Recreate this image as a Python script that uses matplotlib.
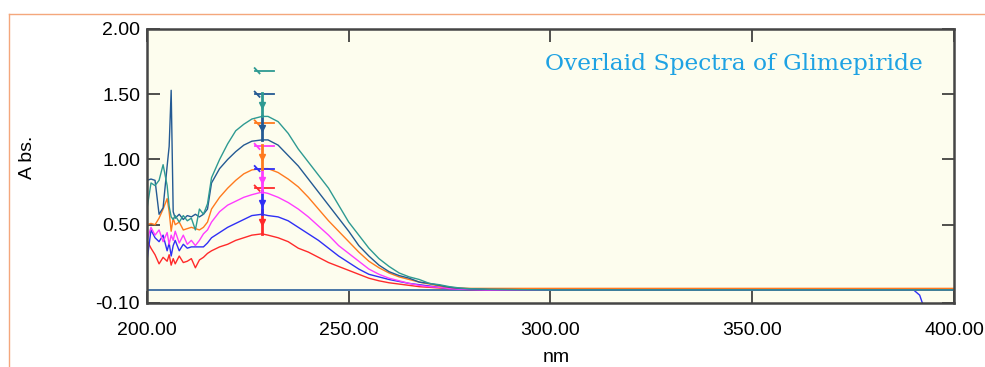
import numpy as np
import matplotlib
matplotlib.use("Agg")
import matplotlib.pyplot as plt
from matplotlib.lines import Line2D

# %% spectra read off the overlay (wavelength in nm, absorbance)
wl = [200, 201, 202, 203, 204, 205, 205.5, 206, 206.5, 207, 208, 209, 210, 211, 212, 213, 214, 215, 216,
      218, 220, 222, 224, 226, 228.5, 230, 232.5, 235, 237.5, 240, 242.5, 245, 247.5, 250, 252.5,
      255, 257.5, 260, 262.5, 265, 267.5, 270, 272.5, 275, 277.5, 280, 285, 300, 390, 391.5, 392.5, 400]

abs_red = [0.38, 0.32, 0.27, 0.20, 0.25, 0.22, 0.27, 0.19, 0.24, 0.20, 0.26, 0.21, 0.22, 0.24, 0.17, 0.23, 0.25, 0.28, 0.30,
           0.33, 0.35, 0.38, 0.40, 0.42, 0.43, 0.42, 0.40, 0.37, 0.32, 0.29, 0.25, 0.21, 0.18, 0.15, 0.12,
           0.09, 0.07, 0.055, 0.045, 0.035, 0.025, 0.02, 0.015, 0.01, 0.005, 0.003, 0.0, 0.0, 0.0, 0.0, 0.0, 0.0]
abs_blue = [0.22, 0.46, 0.40, 0.37, 0.42, 0.30, 0.36, 0.26, 0.34, 0.38, 0.30, 0.35, 0.32, 0.33, 0.33, 0.33, 0.33, 0.36, 0.40,
            0.44, 0.48, 0.51, 0.54, 0.57, 0.58, 0.57, 0.56, 0.53, 0.48, 0.43, 0.38, 0.32, 0.26, 0.21, 0.16,
            0.12, 0.10, 0.08, 0.065, 0.05, 0.04, 0.03, 0.02, 0.01, 0.005, 0.003, 0.0, 0.0, 0.0, -0.04, -0.13, np.nan]
abs_magenta = [0.38, 0.48, 0.42, 0.46, 0.37, 0.44, 0.35, 0.42, 0.38, 0.45, 0.36, 0.42, 0.35, 0.38, 0.34, 0.38, 0.43, 0.46, 0.52,
               0.60, 0.65, 0.68, 0.71, 0.73, 0.75, 0.74, 0.71, 0.67, 0.62, 0.56, 0.49, 0.42, 0.34, 0.28, 0.22,
               0.16, 0.12, 0.09, 0.07, 0.05, 0.035, 0.025, 0.02, 0.01, 0.006, 0.004, 0.0, 0.0, 0.0, 0.0, 0.0, 0.0]
abs_orange = [0.50, 0.51, 0.50, 0.55, 0.62, 0.70, 0.60, 0.45, 0.55, 0.50, 0.52, 0.46, 0.47, 0.48, 0.47, 0.46, 0.48, 0.52, 0.62,
              0.71, 0.78, 0.84, 0.89, 0.92, 0.93, 0.93, 0.90, 0.85, 0.79, 0.71, 0.62, 0.53, 0.45, 0.37, 0.29,
              0.22, 0.17, 0.13, 0.10, 0.08, 0.06, 0.045, 0.03, 0.02, 0.015, 0.012, 0.012, 0.012, 0.012, 0.012, 0.012, 0.012]
abs_navy = [0.84, 0.85, 0.84, 0.58, 0.63, 0.95, 1.10, 1.53, 0.60, 0.55, 0.58, 0.54, 0.57, 0.56, 0.58, 0.56, 0.58, 0.62, 0.82,
            0.93, 1.00, 1.06, 1.11, 1.14, 1.15, 1.15, 1.11, 1.03, 0.95, 0.85, 0.75, 0.65, 0.55, 0.45, 0.34,
            0.26, 0.19, 0.14, 0.11, 0.09, 0.06, 0.05, 0.035, 0.02, 0.012, 0.008, 0.004, 0.0, 0.0, 0.0, 0.0, 0.0]
abs_teal = [0.62, 0.82, 0.80, 0.84, 0.96, 0.80, 0.64, 0.56, 0.54, 0.57, 0.52, 0.57, 0.53, 0.55, 0.46, 0.62, 0.58, 0.66, 0.86,
            1.00, 1.12, 1.22, 1.27, 1.31, 1.33, 1.33, 1.29, 1.20, 1.08, 0.98, 0.88, 0.78, 0.65, 0.52, 0.42,
            0.32, 0.24, 0.18, 0.13, 0.10, 0.08, 0.05, 0.04, 0.025, 0.015, 0.01, 0.005, 0.0, 0.0, 0.0, 0.0, 0.0]

peak_wl = 228.5
series = [abs_red, abs_blue, abs_magenta, abs_orange, abs_navy, abs_teal]
colors = ["#ff2a2a", "#2f2ff5", "#ff3cff", "#ff7a1e", "#245a93", "#2e9a92"]

x_ticks = [200, 250, 300, 350, 400]
y_ticks = [-0.10, 0.50, 1.00, 1.50, 2.00]

# %% figure
plt.rcParams["font.family"] = ["Liberation Sans", "DejaVu Sans"]
fig = plt.figure(figsize=(9.85, 3.67), dpi=100)
ax = fig.add_axes([0.1492, 0.1744, 0.8193, 0.7466])
ax.set_facecolor("#fdfdee")

ax.axhline(0.0, color="#2a5f9a", lw=1.2, zorder=1)
for vals, col in zip(series, colors):
    ax.plot(wl, vals, color=col, lw=1.0, zorder=2)

# peak pick markers (flag above the peak + arrow down to it)
ipk = wl.index(peak_wl)
for vals, col in zip(series, colors):
    pk = vals[ipk]
    ax.plot([peak_wl - 1.8, peak_wl + 3.0], [pk + 0.35, pk + 0.35], color=col, lw=1.3, zorder=3)
    ax.plot([peak_wl - 1.8, peak_wl - 0.6], [pk + 0.37, pk + 0.33], color=col, lw=1.3, zorder=3)
    ax.plot([peak_wl, peak_wl], [pk, pk + 0.18], color=col, lw=2.0, zorder=3)
    ax.plot(peak_wl, pk + 0.09, marker="v", color=col, ms=4.5, zorder=3)

ax.set_xlim(200, 400)
ax.set_ylim(-0.10, 2.00)
ax.set_xticks(x_ticks)
ax.set_xticklabels(["%.2f" % t for t in x_ticks])
ax.set_yticks(y_ticks)
ax.set_yticklabels(["%.2f" % t for t in y_ticks])
ax.tick_params(direction="in", length=9, width=1.1, color="#202020", labelsize=14,
               top=True, right=True)
ax.tick_params(axis="x", pad=14)
ax.tick_params(axis="y", pad=5)
for sp in ax.spines.values():
    sp.set_color("#454545")
    sp.set_linewidth(1.8)

ax.text(0.493, 0.873, "Overlaid Spectra of Glimepiride", transform=ax.transAxes,
        ha="left", va="center", color="#1ea2e3", fontsize=16.8, family="DejaVu Serif")

fig.text(27 / 985, 1 - 157 / 367, "A bs.", rotation=90, ha="center", va="center", fontsize=14)
fig.text(556 / 985, 1 - 358 / 367, "nm", ha="center", va="center", fontsize=14)

# orange frame around the report panel
fig.add_artist(Line2D([9 / 985, 1.0], [1 - 14 / 367, 1 - 14 / 367], color="#f4a77c", lw=1.0))
fig.add_artist(Line2D([9 / 985, 9 / 985], [0.0, 1 - 14 / 367], color="#f4a77c", lw=1.0))

fig.savefig("out.png", dpi=100)
